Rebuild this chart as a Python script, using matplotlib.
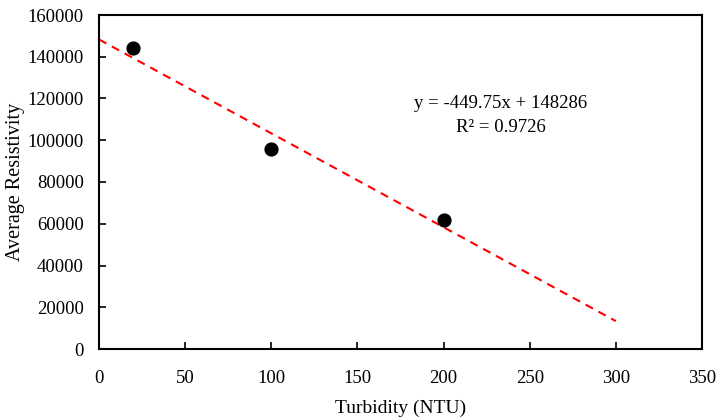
import matplotlib
matplotlib.use("Agg")
import matplotlib.pyplot as plt
import numpy as np

turbidity = [20, 100, 200]
resistivity = [144000, 95700, 61600]
slope = -449.75
intercept = 148286
trend_x = [0, 300]
eq_label = "y = -449.75x + 148286"
r2_label = "R² = 0.9726"
x_ticks = [0, 50, 100, 150, 200, 250, 300, 350]
y_ticks = [0, 20000, 40000, 60000, 80000, 100000, 120000, 140000, 160000]

plt.rcParams['font.family'] = ['Liberation Serif', 'DejaVu Serif']

fig = plt.figure(figsize=(7.16, 4.19), dpi=100)
ax = fig.add_axes([99/716, 1-349/419, (702-99)/716, (349-15)/419])

tx = np.array(trend_x)
ax.plot(tx, slope*tx + intercept, color='#ff0000', linestyle=(0, (4, 3)), lw=1.5, zorder=2)
ax.scatter(turbidity, resistivity, s=85, color='black', zorder=3)

ax.set_xlim(0, 350)
ax.set_ylim(0, 160000)
ax.set_xticks(x_ticks)
ax.set_yticks(y_ticks)
ax.set_xticklabels([str(v) for v in x_ticks])
ax.set_yticklabels([str(v) for v in y_ticks])
ax.tick_params(direction='in', length=5, width=1.2, labelsize=13.5, colors='black')
ax.tick_params(axis='x', pad=15)
ax.tick_params(axis='y', pad=11)
for s in ax.spines.values():
    s.set_linewidth(1.5)

ax.text(233, 117800, eq_label, ha='center', va='center', fontsize=13.5)
ax.text(233, 105900, r2_label, ha='center', va='center', fontsize=13.5)

ax.set_xlabel("Turbidity (NTU)", fontsize=14, labelpad=9)
ax.set_ylabel("Average Resistivity", fontsize=14.5, labelpad=2)

fig.savefig("out.png", dpi=100)
